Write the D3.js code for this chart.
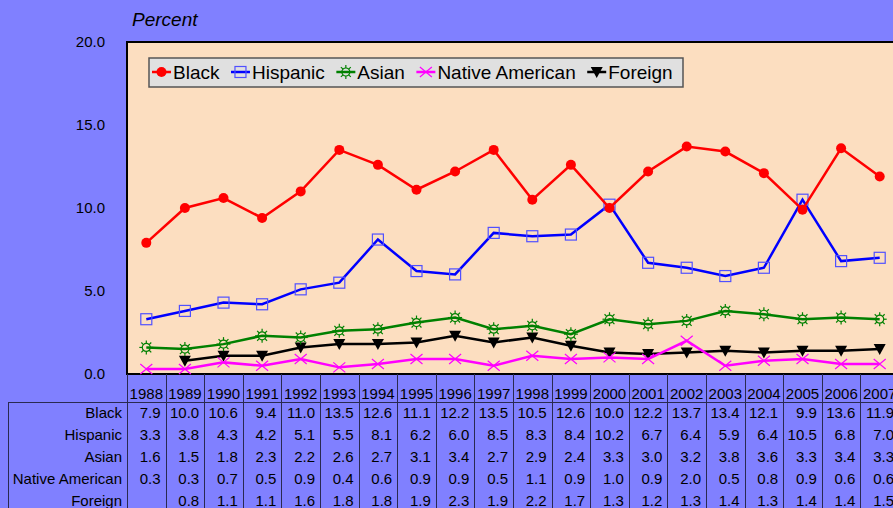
<!DOCTYPE html>
<html>
<head>
<meta charset="utf-8">
<script src="https://cdn.jsdelivr.net/npm/d3@7"></script>
<style>
  body { margin: 0; background: #8080ff; }
  svg { display: block; font-family: "Liberation Sans", Arial, sans-serif; }
</style>
</head>
<body>
<svg id="chart" width="893" height="508"></svg>
<script>
var years = ["1988","1989","1990","1991","1992","1993","1994","1995","1996","1997",
             "1998","1999","2000","2001","2002","2003","2004","2005","2006","2007"];
var black    = [7.9,10.0,10.6,9.4,11.0,13.5,12.6,11.1,12.2,13.5,10.5,12.6,10.0,12.2,13.7,13.4,12.1,9.9,13.6,11.9];
var hispanic = [3.3,3.8,4.3,4.2,5.1,5.5,8.1,6.2,6.0,8.5,8.3,8.4,10.2,6.7,6.4,5.9,6.4,10.5,6.8,7.0];
var asian    = [1.6,1.5,1.8,2.3,2.2,2.6,2.7,3.1,3.4,2.7,2.9,2.4,3.3,3.0,3.2,3.8,3.6,3.3,3.4,3.3];
var native   = [0.3,0.3,0.7,0.5,0.9,0.4,0.6,0.9,0.9,0.5,1.1,0.9,1.0,0.9,2.0,0.5,0.8,0.9,0.6,0.6];
var foreign  = [null,0.8,1.1,1.1,1.6,1.8,1.8,1.9,2.3,1.9,2.2,1.7,1.3,1.2,1.3,1.4,1.3,1.4,1.4,1.5];
var yTicks   = [0, 5, 10, 15, 20];

var series = [
  {name: "Black", values: black, color: "#ff0000", marker: "circle"},
  {name: "Hispanic", values: hispanic, color: "#0000ff", marker: "square"},
  {name: "Asian", values: asian, color: "#008000", marker: "sun"},
  {name: "Native American", values: native, color: "#ff00ff", marker: "x"},
  {name: "Foreign", values: foreign, color: "#000000", marker: "tri"}
];

var svg = d3.select("#chart");
var plotL = 127, plotR = 899, plotT = 42, plotB = 374;

var x = d3.scaleBand().domain(years).range([plotL, plotR]);
var y = d3.scaleLinear().domain([0, 20]).range([plotB, plotT]);

// plot area
svg.append("rect").attr("x", plotL).attr("y", plotT)
  .attr("width", plotR - plotL).attr("height", plotB - plotT)
  .attr("fill", "#fcdec0").attr("stroke", "#000").attr("stroke-width", 2);

// y axis labels
svg.append("g").attr("transform", "translate(" + (plotL - 19) + ",0)")
  .call(d3.axisLeft(y).tickValues(yTicks).tickFormat(d3.format(".1f")).tickSize(0))
  .call(function(g) { g.select(".domain").remove(); })
  .selectAll("text").attr("font-size", 15).attr("fill", "#000")
  .attr("font-family", "Liberation Sans, Arial, sans-serif");

svg.append("text").attr("x", 132).attr("y", 26)
  .attr("font-size", 19).attr("font-style", "italic").text("Percent");

function drawMarker(g, type, color) {
  if (type == "circle") {
    g.append("circle").attr("r", 5).attr("fill", color);
  } else if (type == "square") {
    g.append("rect").attr("x", -5.5).attr("y", -5.5).attr("width", 11).attr("height", 11)
      .attr("fill", "none").attr("stroke", "#5050ff").attr("stroke-width", 1.2);
  } else if (type == "sun") {
    g.append("circle").attr("r", 4).attr("fill", "none").attr("stroke", color).attr("stroke-width", 1.2);
    for (var k = 0; k < 8; k++) {
      var a = k * Math.PI / 4;
      g.append("line")
        .attr("x1", Math.cos(a) * 4).attr("y1", Math.sin(a) * 4)
        .attr("x2", Math.cos(a) * 7).attr("y2", Math.sin(a) * 7)
        .attr("stroke", color).attr("stroke-width", 1.2);
    }
  } else if (type == "x") {
    g.append("path").attr("d", "M-6,-5L6,5M-6,5L6,-5")
      .attr("stroke", color).attr("stroke-width", 1.2).attr("fill", "none");
  } else if (type == "tri") {
    g.append("path").attr("d", "M-6,-5L6,-5L0,6Z").attr("fill", color);
  }
}

var line = d3.line()
  .defined(function(d) { return d != null; })
  .x(function(d, i) { return x(years[i]) + x.bandwidth() / 2; })
  .y(function(d) { return y(d); });

// draw lines back to front so Black is on top
series.slice().reverse().forEach(function(s) {
  svg.append("path").datum(s.values)
    .attr("d", line).attr("fill", "none")
    .attr("stroke", s.color).attr("stroke-width", 2.5);
  s.values.forEach(function(v, i) {
    if (v == null) return;
    var g = svg.append("g")
      .attr("transform", "translate(" + (x(years[i]) + x.bandwidth() / 2) + "," + y(v) + ")");
    drawMarker(g, s.marker, s.color);
  });
});

// legend
var lg = svg.append("g");
lg.append("rect").attr("x", 149).attr("y", 58).attr("width", 534).attr("height", 29)
  .attr("fill", "#e0e0e0").attr("stroke", "#555").attr("stroke-width", 1.5);
var lx = 152;
series.forEach(function(s) {
  var item = lg.append("g").attr("transform", "translate(" + lx + ",72)");
  item.append("line").attr("x1", 0).attr("x2", 19).attr("stroke", s.color).attr("stroke-width", 2.5);
  var m = item.append("g").attr("transform", "translate(9.5,0)");
  drawMarker(m, s.marker, s.color);
  var t = item.append("text").attr("x", 21).attr("y", 6.5).attr("font-size", 19).text(s.name);
  lx += 21 + t.node().getComputedTextLength() + 11.5;
});

// data table
var tableLine = "#2a2a50";
var rowY = [413, 435, 457, 479, 501];
var tb = svg.append("g");
tb.append("line").attr("x1", 8).attr("x2", 893).attr("y1", 402.5).attr("y2", 402.5)
  .attr("stroke", tableLine).attr("stroke-width", 1);
tb.append("line").attr("x1", 8.5).attr("x2", 8.5).attr("y1", 402).attr("y2", 508)
  .attr("stroke", tableLine).attr("stroke-width", 1);
years.forEach(function(yr, i) {
  var x0 = x(yr);
  tb.append("line").attr("x1", Math.round(x0) + 0.5).attr("x2", Math.round(x0) + 0.5)
    .attr("y1", plotB).attr("y2", 508).attr("stroke", tableLine).attr("stroke-width", 1);
  tb.append("text").attr("x", x0 + x.bandwidth() / 2).attr("y", 399)
    .attr("text-anchor", "middle").attr("font-size", 15).text(yr);
});
series.forEach(function(s, r) {
  tb.append("text").attr("x", 122).attr("y", rowY[r] + 5)
    .attr("text-anchor", "end").attr("font-size", 15).text(s.name);
  s.values.forEach(function(v, i) {
    if (v == null) return;
    tb.append("text").attr("x", x(years[i]) + x.bandwidth() - 5).attr("y", rowY[r] + 5)
      .attr("text-anchor", "end").attr("font-size", 15).text(v.toFixed(1));
  });
});
</script>
</body>
</html>
